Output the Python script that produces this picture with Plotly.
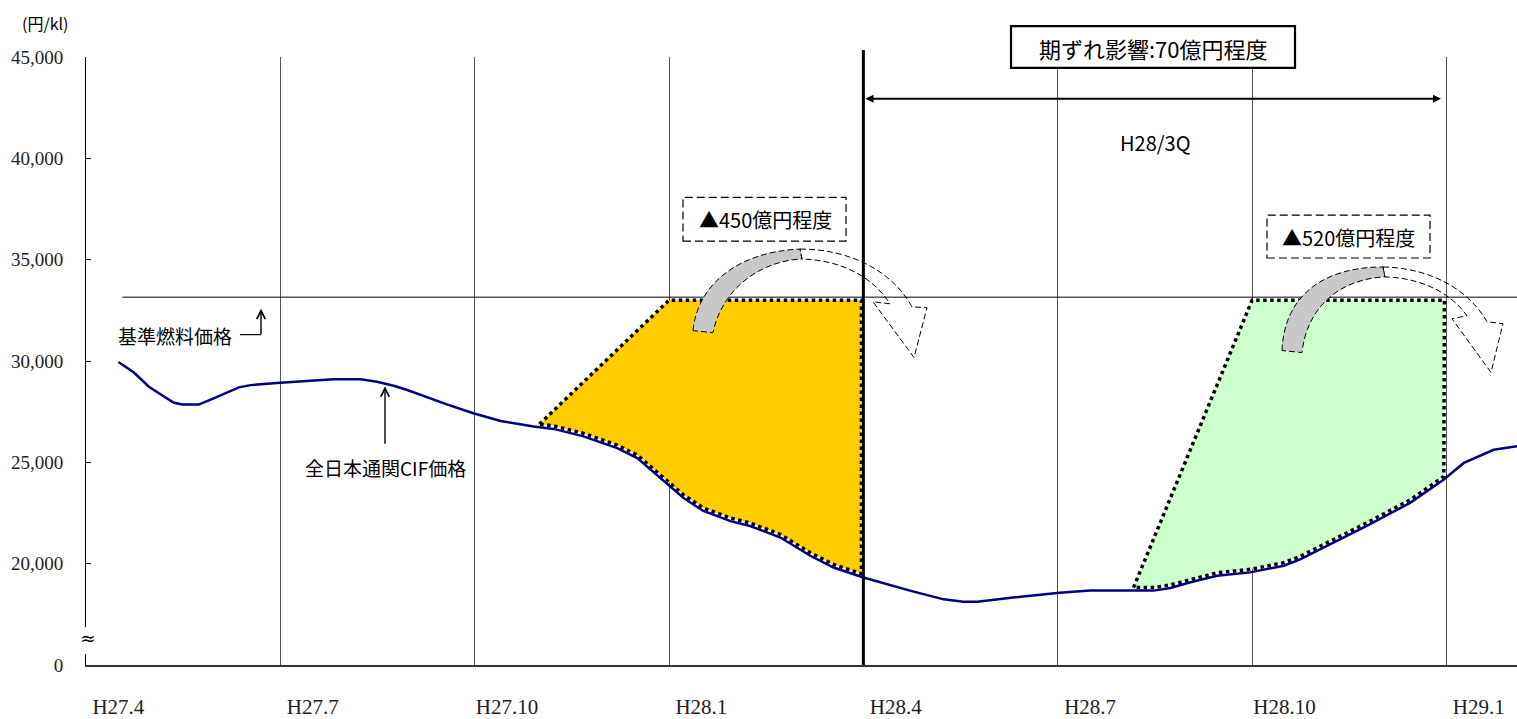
import numpy as np
import plotly.graph_objects as go

# ---------------- data ----------------
tick_labels = ["H27.4", "H27.7", "H27.10", "H28.1", "H28.4", "H28.7", "H28.10", "H29.1"]
tick_months = [0, 3, 6, 9, 12, 15, 18, 21]          # month index counted from H27.4
quarter_edges = [m - 0.5 for m in tick_months[1:]]  # start of each quarter

y_tickvals = [15000, 20000, 25000, 30000, 35000, 40000, 45000]
y_ticktext = ["0", "20,000", "25,000", "30,000", "35,000", "40,000", "45,000"]

cif_month = [0.0, 0.24, 0.47, 0.85, 0.98, 1.24, 1.47, 1.86, 2.04, 2.5,
             3.32, 3.74, 3.99, 4.25, 4.46, 4.76, 5.07, 5.48, 5.9, 6.41,
             6.72, 7.18, 7.70, 8.01, 8.31, 8.72, 9.03, 9.45, 9.75, 10.22,
             10.68, 11.04, 11.5, 12.22, 12.74, 13.04, 13.26, 13.78, 14.53, 15.0,
             15.98, 16.24, 16.55, 16.96, 17.47, 17.99, 18.25, 18.6, 19.27, 19.94,
             20.46, 20.77, 21.23, 21.59]
cif_price = [29950, 29430, 28730, 27950, 27850, 27850, 28160, 28700, 28810, 28930,
             29100, 29100, 28980, 28780, 28570, 28210, 27860, 27420, 27040, 26770,
             26650, 26280, 25700, 25210, 24390, 23250, 22600, 22100, 21860, 21290,
             20390, 19810, 19320, 18670, 18240, 18120, 18120, 18320, 18570, 18670,
             18670, 18800, 19080, 19400, 19570, 19900, 20220, 20790, 21860, 23000,
             24150, 24970, 25620, 25790]

ref_price = 33150          # 基準燃料価格
ref_start = 0.06
revision_month = 11.5      # H28.4

orange_span = (6.5, 8.5, 11.47)    # start on CIF line, start of top, end
green_span = (15.67, 17.5, 20.47)

# ---------------- layout constants ----------------
W, H = 1517, 719
ML, MR, MT, MB = 86, 0, 57, 51
X_RANGE = [-0.5, 21.59]
Y_RANGE = [15000, 45000]
EDGE_GAP = 150
JP = "Noto Sans CJK JP"
SERIF = "Liberation Serif"


def px(x):
    return (x - ML) / (W - ML - MR)


def py(y):
    return (H - MB - y) / (H - MT - MB)


def svg(segments):
    out = []
    for cmd, pts in segments:
        if cmd == "L":
            for a, b in pts:
                out.append(f"L{px(a):.5f},{py(b):.5f}")
        else:
            out.append(cmd + " ".join(f"{px(a):.5f},{py(b):.5f}" for a, b in pts))
    return " ".join(out) + " Z"


def region(x0, xt, x2):
    inner = [m for m in cif_month if x0 < m < x2]
    bx = [x0] + inner + [x2]
    by = list(np.interp(bx, cif_month, cif_price) + EDGE_GAP)
    top = ref_price - EDGE_GAP
    xs = [x0, xt, x2] + bx[::-1]
    ys = [by[0], top, top] + by[::-1]
    return xs, ys


fig = go.Figure()

for span, color in [(orange_span, "#FFCC00"), (green_span, "#CCFFCC")]:
    xs, ys = region(*span)
    fig.add_trace(go.Scatter(x=xs, y=ys, mode="lines", fill="toself", fillcolor=color,
                             line=dict(color="black", width=3.5, dash="dot"),
                             hoverinfo="skip"))

fig.add_trace(go.Scatter(x=[ref_start, X_RANGE[1]], y=[ref_price, ref_price], mode="lines",
                         line=dict(color="black", width=1), hoverinfo="skip"))

fig.add_trace(go.Scatter(x=cif_month, y=cif_price, mode="lines",
                         line=dict(color="#000080", width=2.5)))

shapes = []
# thick vertical line at H28.4
shapes.append(dict(type="line", xref="x", yref="paper", x0=revision_month, x1=revision_month,
                   y0=0, y1=py(50), line=dict(color="black", width=3), layer="above"))

# curved arrows
dash_arrow = "6px,3px"
orange_gray = [("M", [(693, 332)]), ("C", [(697, 288), (735, 253), (800, 250)]),
               ("L", [(802, 260)]), ("C", [(760, 262), (722, 290), (713, 334)])]
orange_white = [("M", [(800, 250)]), ("C", [(850, 250), (892, 272), (912, 308)]),
                ("L", [(927, 309), (914, 359), (873, 303), (890, 305)]),
                ("C", [(872, 277), (840, 261), (802, 260)])]
green_gray = [("M", [(1282, 352)]), ("C", [(1284, 298), (1322, 268), (1383, 268)]),
              ("L", [(1385, 278)]), ("C", [(1340, 280), (1307, 308), (1302, 354)])]
green_white = [("M", [(1383, 268)]), ("C", [(1430, 269), (1468, 290), (1487, 323)]),
               ("L", [(1503, 325), (1491, 374), (1452, 320), (1467, 317)]),
               ("C", [(1450, 293), (1420, 279), (1385, 278)])]
for seg, fill in [(orange_gray, "#C8C8C8"), (orange_white, "rgba(0,0,0,0)"),
                  (green_gray, "#C8C8C8"), (green_white, "rgba(0,0,0,0)")]:
    shapes.append(dict(type="path", xref="paper", yref="paper", path=svg(seg),
                       fillcolor=fill, line=dict(color="black", width=1, dash=dash_arrow),
                       layer="above"))

# boxes
for (x0, y0, x1, y1), dash, lw in [((683, 198, 846, 242), "8px,4px", 1.2),
                                   ((1267, 216, 1430, 259), "8px,4px", 1.2),
                                   ((1011, 26, 1295, 68), "solid", 2.2)]:
    shapes.append(dict(type="rect", xref="paper", yref="paper", x0=px(x0), x1=px(x1),
                       y0=py(y1), y1=py(y0), fillcolor="white",
                       line=dict(color="black", width=lw, dash=dash), layer="above"))

# bracket for 基準燃料価格
shapes.append(dict(type="line", xref="paper", yref="paper", x0=px(240), x1=px(261),
                   y0=py(336), y1=py(336), line=dict(color="black", width=1.2), layer="above"))

# gap in the y axis for the break mark
shapes.append(dict(type="rect", xref="paper", yref="paper", x0=px(83), x1=px(89),
                   y0=py(657), y1=py(630), fillcolor="white", line=dict(width=0),
                   layer="above"))

annotations = []


def text(t, x, y, size, family=JP, xanchor="center"):
    annotations.append(dict(text=t, x=px(x), y=py(y), xref="paper", yref="paper",
                            showarrow=False, xanchor=xanchor, yanchor="middle",
                            font=dict(family=family, size=size, color="black")))


text("(円/kl)", 45, 23, 16)
text("基準燃料価格", 116, 337, 19, xanchor="left")
text("全日本通関CIF価格", 385, 470, 19)
text("▲450億円程度", 765, 220, 20)
text("▲520億円程度", 1348, 238, 20)
text("期ずれ影響:70億円程度", 1153, 48, 22)
text("H28/3Q", 1155, 143, 20)

# ≈ axis break mark
text("≈", 88, 641, 19, family="DejaVu Serif")

# up arrows
for xh, yh, length in [(261, 310, 27), (385, 388, 59)]:
    annotations.append(dict(text="", x=px(xh), y=py(yh), xref="paper", yref="paper",
                            ax=0, ay=length, axref="pixel", ayref="pixel", showarrow=True,
                            arrowhead=5, arrowsize=1.2, arrowwidth=1.4, arrowcolor="black"))

# double-headed arrow H28/3Q
annotations.append(dict(text="", x=px(1441), y=py(99), xref="paper", yref="paper",
                        ax=-(1441 - 864), ay=0, showarrow=True, arrowside="end+start",
                        arrowhead=2, startarrowhead=2, arrowsize=0.8, startarrowsize=0.8,
                        arrowwidth=2, arrowcolor="black"))

fig.update_layout(
    width=W, height=H,
    margin=dict(l=ML, r=MR, t=MT, b=MB),
    paper_bgcolor="white", plot_bgcolor="white",
    showlegend=False,
    shapes=shapes, annotations=annotations,
    xaxis=dict(range=X_RANGE, tickvals=tick_months, ticktext=tick_labels,
               showgrid=False, zeroline=False, ticks="",
               showline=True, linecolor="#333", linewidth=1.5,
               ticklabelstandoff=22,
               tickfont=dict(family=SERIF, size=21, color="#222"),
               minor=dict(tickvals=quarter_edges, showgrid=True, gridcolor="#555",
                          gridwidth=1, ticks="")),
    yaxis=dict(range=Y_RANGE, tickvals=y_tickvals, ticktext=y_ticktext,
               showgrid=False, zeroline=False,
               ticks="inside", ticklen=5, tickcolor="black",
               showline=True, linecolor="black", linewidth=1,
               ticklabelstandoff=18,
               tickfont=dict(family=SERIF, size=19, color="#222")),
)

fig.write_html("out.html", config={"displayModeBar": False},
               post_script="document.body.style.margin='0';document.body.style.overflow='hidden';")
